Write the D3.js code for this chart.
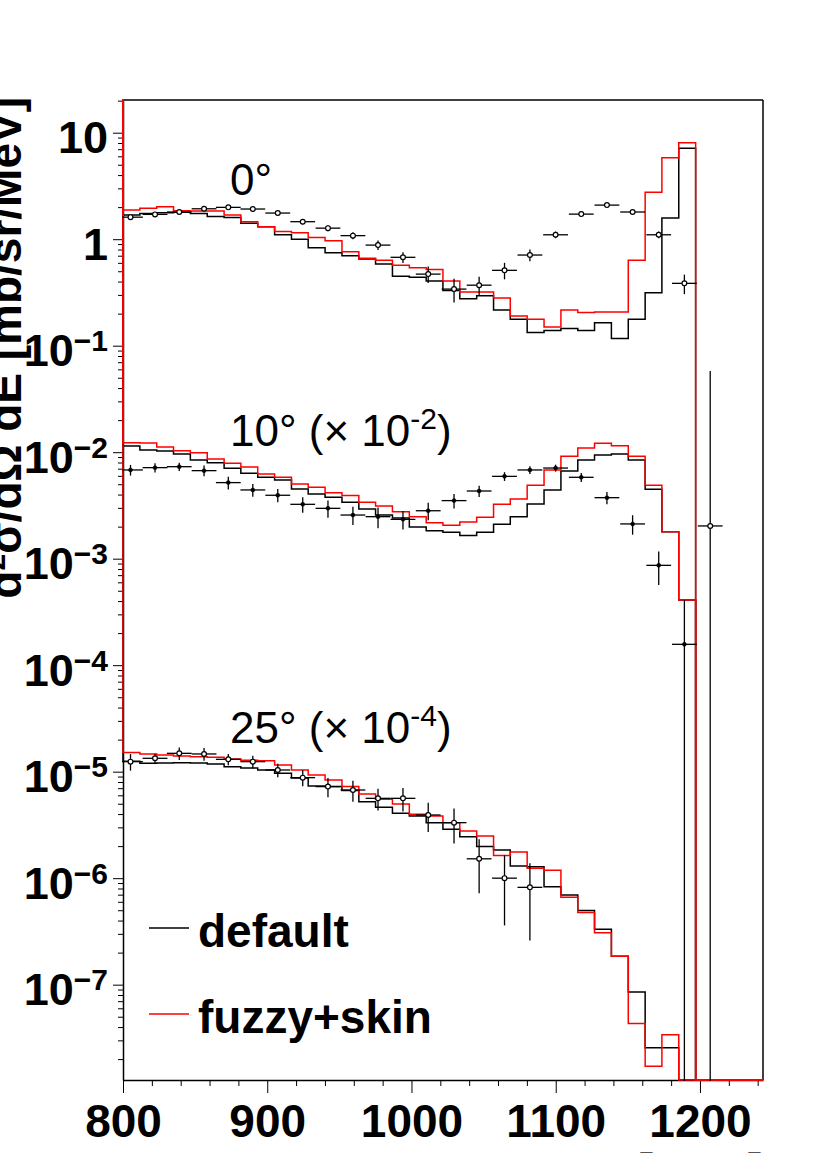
<!DOCTYPE html>
<html>
<head>
<meta charset="utf-8">
<script src="https://cdn.jsdelivr.net/npm/d3@7"></script>
<style>
  body { margin: 0; background: #fff; }
  text { font-family: "Liberation Sans", Arial, Helvetica, sans-serif; }
</style>
</head>
<body>
<div id="chart"></div>
<script>
// histogram bin edges (MeV)
const binEdges = [800.0, 811.7, 823.4, 835.0, 846.7, 858.4, 870.1, 881.7, 893.4, 905.1,
  916.8, 928.4, 940.1, 951.8, 963.5, 975.1, 986.8, 998.5, 1010.2, 1021.8,
  1033.5, 1045.2, 1056.9, 1068.5, 1080.2, 1091.9, 1103.6, 1115.3, 1126.9, 1138.6,
  1150.3, 1162.0, 1173.6, 1185.3, 1197.0, 1208.7, 1220.3, 1232.0, 1243.7];

// model "default" (black)
const default0 = [1.69, 1.74, 1.77, 1.79, 1.74, 1.63, 1.60, 1.41, 1.31, 1.10,
  1.00, 0.83, 0.745, 0.70, 0.65, 0.585, 0.45, 0.44, 0.405, 0.33,
  0.276, 0.295, 0.216, 0.177, 0.133, 0.139, 0.145, 0.139, 0.164, 0.117,
  0.177, 0.315, 1.58, 7.14, 0, 0, 0, 0];
const default10 = [0.01143, 0.01049, 0.01026, 0.00962, 0.00845, 0.00798, 0.00706, 0.00633, 0.00581, 0.00548,
  0.00451, 0.00405, 0.00377, 0.00338, 0.00293, 0.00257, 0.00241, 0.00198, 0.00183, 0.00177,
  0.00165, 0.00177, 0.00210, 0.00248, 0.00326, 0.00442, 0.00666, 0.00845, 0.00941, 0.00962,
  0.00845, 0.00448, 0.00179, 0.000409, 0, 0, 0, 0];
const default25 = [1.251e-5, 1.198e-5, 1.207e-5, 1.216e-5, 1.207e-5, 1.181e-5, 1.115e-5, 1.083e-5, 1.037e-5, 9.65e-6,
  8.73e-6, 7.34e-6, 7.24e-6, 6.64e-6, 5.23e-6, 4.63e-6, 4.06e-6, 3.84e-6, 3.32e-6, 2.88e-6,
  2.45e-6, 1.98e-6, 1.84e-6, 1.30e-6, 1.28e-6, 8.32e-7, 6.95e-7, 4.96e-7, 3.31e-7, 1.85e-7,
  8.54e-8, 2.56e-8, 2.56e-8, 0, 0, 0, 0, 0];

// model "fuzzy+skin" (red)
const fuzzy0 = [1.88, 1.95, 2.02, 1.85, 1.84, 1.84, 1.69, 1.46, 1.31, 1.18,
  1.15, 1.04, 0.965, 0.763, 0.662, 0.636, 0.57, 0.54, 0.52, 0.404,
  0.32, 0.32, 0.28, 0.19, 0.177, 0.15, 0.216, 0.205, 0.207, 0.207,
  0.633, 2.76, 5.83, 8.06, 0, 0, 0, 0];
const fuzzy10 = [0.01229, 0.01220, 0.01119, 0.01034, 0.00990, 0.00863, 0.00786, 0.00726, 0.00624, 0.00581,
  0.00503, 0.00468, 0.00417, 0.00391, 0.00338, 0.00313, 0.00276, 0.00248, 0.00218, 0.00206,
  0.00221, 0.00245, 0.00324, 0.00364, 0.00489, 0.00681, 0.00915, 0.01094, 0.01211, 0.01151,
  0.00915, 0.00489, 0.00179, 0.000409, 0, 0, 0, 0];
const fuzzy25 = [1.51e-5, 1.467e-5, 1.435e-5, 1.405e-5, 1.384e-5, 1.364e-5, 1.316e-5, 1.278e-5, 1.269e-5, 1.156e-5,
  1.037e-5, 9.31e-6, 8.36e-6, 7.24e-6, 6.17e-6, 5.50e-6, 4.97e-6, 3.98e-6, 3.84e-6, 3.32e-6,
  2.77e-6, 2.49e-6, 1.63e-6, 1.76e-6, 1.24e-6, 1.19e-6, 6.61e-7, 4.75e-7, 3.08e-7, 1.85e-7,
  4.31e-8, 1.71e-8, 3.39e-8, 0, 0, 0, 0, 0];

// measured points
const dataE = [805.2, 822.2, 839.0, 856.2, 873.0, 890.0, 907.3, 924.6, 942.1, 959.4,
  976.8, 994.1, 1011.6, 1029.5, 1046.9, 1064.5, 1082.1, 1099.9, 1117.7, 1135.5,
  1153.3, 1171.4, 1189.2, 1207.1];
const dataEErr = 8.6;

const exp0 = [1.61, 1.71, 1.80, 1.93, 1.99, 1.92, 1.76, 1.46, 1.27, 1.08,
  0.88, 0.676, 0.47, 0.34, 0.37, 0.51, 0.71, 1.10, 1.72, 2.09,
  1.80, 1.10, 0.385, 0.00203];
const err0 = [0.07, 0.07, 0.07, 0.08, 0.08, 0.08, 0.08, 0.08, 0.08, 0.08,
  0.09, 0.077, 0.083, 0.085, 0.073, 0.09, 0.09, 0.08, 0.08, 0.08,
  0.08, 0.08, 0.08, 0.0557];

const exp10 = [0.00681, 0.00716, 0.00731, 0.00671, 0.00518, 0.00442, 0.00394, 0.00324, 0.00297, 0.00257,
  0.00248, 0.00234, 0.00282, 0.00351, 0.00432, 0.00593, 0.00681, 0.00710, 0.00581, 0.00374,
  0.00212, 0.000866, 0.000157];
const err10 = [7.8e-4, 7.2e-4, 6.5e-4, 7.7e-4, 7.1e-4, 6.1e-4, 5.6e-4, 5.4e-4, 5.5e-4, 5.0e-4,
  5.5e-4, 4.6e-4, 5.3e-4, 5.5e-4, 5.3e-4, 5.6e-4, 5.7e-4, 5.3e-4, 5.5e-4, 4.9e-4,
  4.4e-4, 3.0e-4, 2.5e-4];

const exp25 = [1.242e-5, 1.335e-5, 1.487e-5, 1.467e-5, 1.306e-5, 1.242e-5, 1.037e-5, 8.79e-6, 7.24e-6, 6.73e-6,
  5.62e-6, 5.62e-6, 3.92e-6, 3.32e-6, 1.52e-6, 1.00e-6, 8.2e-7];
const err25 = [2.2e-6, 1.4e-6, 2.0e-6, 2.0e-6, 1.6e-6, 1.7e-6, 1.5e-6, 1.5e-6, 1.5e-6, 1.5e-6,
  1.3e-6, 1.4e-6, 1.2e-6, 1.2e-6, 0.8e-6, 0.64e-6, 0.56e-6];

const xTicks = [800, 900, 1000, 1100, 1200];
const yDecades = [1e1, 1, 1e-1, 1e-2, 1e-3, 1e-4, 1e-5, 1e-6, 1e-7];

//chart size
const margin = {top: 100, right: 67, bottom: 73, left: 123};
const width = 830 - margin.left - margin.right;
const height = 1153 - margin.top - margin.bottom;

const svg = d3.select("#chart").append("svg")
    .attr("width", 830)
    .attr("height", 1153);

const g = svg.append("g")
    .attr("transform", "translate(" + margin.left + "," + margin.top + ")");

const x = d3.scaleLinear().domain([800, 1243.7]).range([0, width]);
const y = d3.scaleLog().domain([1.273e-8, 20.28]).range([height, 0]);

g.append("clipPath").attr("id", "clip")
  .append("rect").attr("x", -1).attr("y", -1).attr("width", width + 2).attr("height", height + 2);

//x axis: minor ticks every 20 MeV, major every 100
const xMinor = d3.range(820, 1241, 20).filter(d => d % 100 !== 0);
g.append("g").attr("transform", "translate(0," + height + ")")
  .call(d3.axisBottom(x).tickValues(xMinor).tickSize(6).tickFormat(""))
  .call(a => a.select(".domain").remove());
const xAx = g.append("g").attr("transform", "translate(0," + height + ")")
  .call(d3.axisBottom(x).tickValues(xTicks).tickSize(13).tickSizeOuter(0).tickFormat(d3.format("d")));
xAx.selectAll("text")
  .attr("y", 57).attr("dy", 0)
  .style("font-size", "46px").style("font-weight", "bold").attr("fill", "#000");

//y axis
const yMinor = [];
yDecades.concat([1e-8]).forEach(dec => {
  for (let m = 2; m <= 9; m++) {
    const v = dec * m;
    if (v > 1.273e-8 && v < 20.28) yMinor.push(v);
  }
});
g.append("g")
  .call(d3.axisLeft(y).tickValues(yMinor).tickSize(5).tickFormat(""))
  .call(a => a.select(".domain").remove());
const yAx = g.append("g")
  .call(d3.axisLeft(y).tickValues(yDecades).tickSize(10).tickSizeOuter(0).tickFormat(""));
yAx.selectAll(".tick").append("text")
  .attr("x", -15).attr("y", 20)
  .attr("text-anchor", "end")
  .attr("fill", "#000")
  .style("font-size", "45px").style("font-weight", "bold")
  .each(function(d) {
    const t = d3.select(this);
    const p = Math.round(Math.log10(d));
    if (p === 1) t.text("10");
    else if (p === 0) t.text("1");
    else {
      t.append("tspan").text("10");
      t.append("tspan").attr("dy", -15).style("font-size", "30px").text("\u2212" + (-p));
    }
  });

g.selectAll(".domain").attr("stroke-width", 1.5);

//frame top and right
g.append("line").attr("x1", 0).attr("x2", width).attr("y1", 0).attr("y2", 0)
  .attr("stroke", "#000").attr("stroke-width", 1.5);
g.append("line").attr("x1", width).attr("x2", width).attr("y1", 0).attr("y2", height)
  .attr("stroke", "#000").attr("stroke-width", 1.5);

//axis titles
svg.append("text")
  .attr("transform", "translate(21,97) rotate(-90)")
  .attr("text-anchor", "end")
  .style("font-size", "46px").style("font-weight", "bold")
  .call(t => {
    t.append("tspan").text("d");
    t.append("tspan").attr("dy", -16).style("font-size", "30px").text("2");
    t.append("tspan").attr("dy", 16).text("\u03c3/d\u03a9 dE [mb/sr/MeV]");
  });
svg.append("text")
  .attr("x", 763).attr("y", 1186)
  .attr("text-anchor", "end")
  .style("font-size", "46px").style("font-weight", "bold")
  .attr("fill", "#555")
  .text("[MeV]");

//histograms as ROOT-like step lines
const plot = g.append("g").attr("clip-path", "url(#clip)");

function histPath(vals) {
  const pts = [[x(binEdges[0]), -2]];
  vals.forEach((v, i) => {
    const yy = v > 0 ? y(v) : height;
    pts.push([x(binEdges[i]), yy], [x(binEdges[i + 1]), yy]);
  });
  return d3.line()(pts);
}

[default0, default10, default25].forEach(h => {
  plot.append("path").attr("d", histPath(h))
    .attr("fill", "none").attr("stroke", "#000").attr("stroke-width", 1.5);
});
[fuzzy0, fuzzy10, fuzzy25].forEach(h => {
  plot.append("path").attr("d", histPath(h))
    .attr("fill", "none").attr("stroke", "#ff0000").attr("stroke-width", 1.5);
});

//data points with error bars
function drawData(vals, errs, open) {
  const pts = vals.map((v, i) => ({e: dataE[i], v: v, err: errs[i]}));
  const grp = plot.append("g");
  grp.selectAll(".ex").data(pts).enter().append("line")
    .attr("x1", d => x(d.e - dataEErr)).attr("x2", d => x(d.e + dataEErr))
    .attr("y1", d => y(d.v)).attr("y2", d => y(d.v))
    .attr("stroke", "#000").attr("stroke-width", 1.3);
  grp.selectAll(".ey").data(pts).enter().append("line")
    .attr("x1", d => x(d.e)).attr("x2", d => x(d.e))
    .attr("y1", d => y(d.v + d.err))
    .attr("y2", d => d.v - d.err > 0 ? y(d.v - d.err) : height + 2)
    .attr("stroke", "#000").attr("stroke-width", 1.3);
  grp.selectAll("circle").data(pts).enter().append("circle")
    .attr("cx", d => x(d.e)).attr("cy", d => y(d.v))
    .attr("r", open ? 2.4 : 2)
    .attr("fill", open ? "#fff" : "#000")
    .attr("stroke", "#000").attr("stroke-width", open ? 1.2 : 0.5);
}
drawData(exp0, err0, true);
drawData(exp10, err10, false);
drawData(exp25, err25, true);

//angle labels
function angleLabel(yy, deg, pow) {
  const t = svg.append("text").attr("x", 230).attr("y", yy).style("font-size", "44px");
  t.append("tspan").text(deg + "\u00b0" + (pow ? " (\u00d7 10" : ""));
  if (pow) {
    t.append("tspan").attr("dy", -17).style("font-size", "30px").text("-" + pow);
    t.append("tspan").attr("dy", 17).text(")");
  }
}
angleLabel(195, "0", null);
angleLabel(446, "10", 2);
angleLabel(743, "25", 4);

//legend
const legend = [{name: "default", col: "#000", ly: 928, ty: 947},
                {name: "fuzzy+skin", col: "#ff0000", ly: 1014, ty: 1033}];
legend.forEach(l => {
  svg.append("line").attr("x1", 149).attr("x2", 189).attr("y1", l.ly).attr("y2", l.ly)
    .attr("stroke", l.col).attr("stroke-width", 1.3);
  svg.append("text").attr("x", 198).attr("y", l.ty)
    .style("font-size", "46px").style("font-weight", "bold").text(l.name);
});
</script>
</body>
</html>
